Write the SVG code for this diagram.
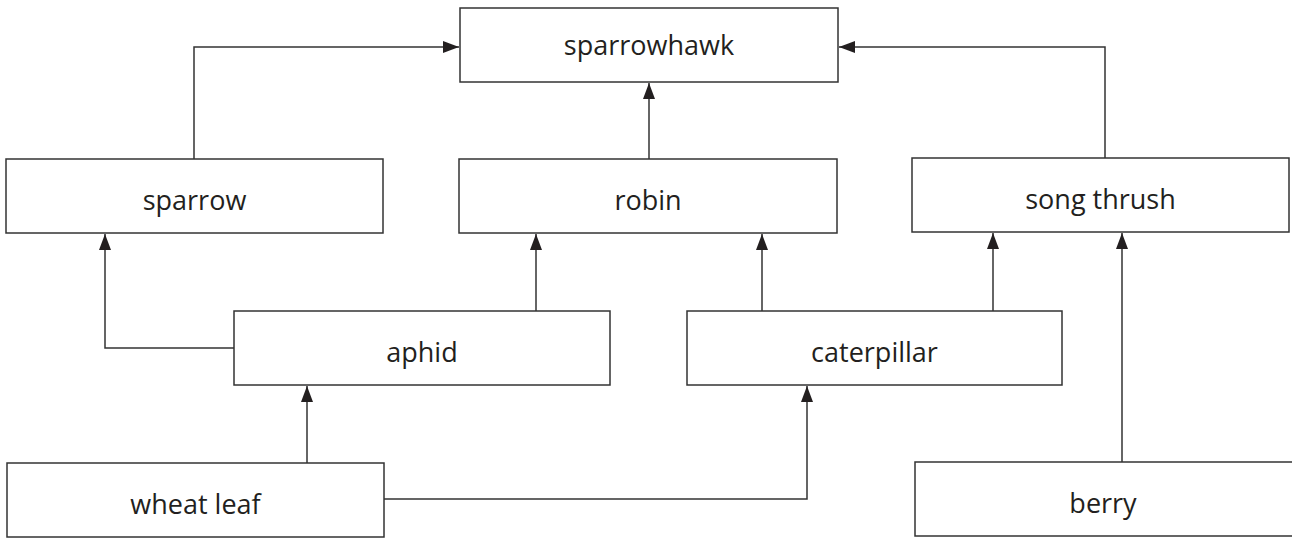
<svg xmlns="http://www.w3.org/2000/svg" width="1292" height="538" viewBox="0 0 1292 538">
<defs>
<marker id="ah" markerUnits="userSpaceOnUse" markerWidth="16" markerHeight="12" refX="16" refY="6" orient="auto">
<path d="M0,0 L16,6 L0,12 Z" fill="#231f20"/>
</marker>
</defs>
<style>
.box{fill:#fff;stroke:#333;stroke-width:1.5}
.lbl{font-family:"Open Sans","Noto Sans",sans-serif;font-size:27px;fill:#231f20;text-anchor:middle}
.c{fill:none;stroke:#333;stroke-width:1.5}
</style>
<g id="connectors">
<path class="c" d="M194,159 V47 H459" marker-end="url(#ah)"/>
<path class="c" d="M1105,158 V47 H839" marker-end="url(#ah)"/>
<path class="c" d="M649,159 V83" marker-end="url(#ah)"/>
<path class="c" d="M234,348 H105 V234" marker-end="url(#ah)"/>
<path class="c" d="M536,311 V234" marker-end="url(#ah)"/>
<path class="c" d="M762,311 V234" marker-end="url(#ah)"/>
<path class="c" d="M993,311 V233" marker-end="url(#ah)"/>
<path class="c" d="M1122,462 V233" marker-end="url(#ah)"/>
<path class="c" d="M307,463 V386" marker-end="url(#ah)"/>
<path class="c" d="M384,499 H807 V386" marker-end="url(#ah)"/>
</g>
<g id="sparrowhawk"><rect class="box" x="460" y="8" width="378" height="74"/><text class="lbl" x="649" y="55">sparrowhawk</text></g>
<g id="sparrow"><rect class="box" x="6" y="159" width="377" height="74"/><text class="lbl" x="194.5" y="210">sparrow</text></g>
<g id="robin"><rect class="box" x="459" y="159" width="378" height="74"/><text class="lbl" x="648" y="210">robin</text></g>
<g id="song-thrush"><rect class="box" x="912" y="158" width="377" height="74"/><text class="lbl" x="1100.5" y="209">song thrush</text></g>
<g id="aphid"><rect class="box" x="234" y="311" width="376" height="74"/><text class="lbl" x="422" y="362">aphid</text></g>
<g id="caterpillar"><rect class="box" x="687" y="311" width="375" height="74"/><text class="lbl" x="874.5" y="362">caterpillar</text></g>
<g id="wheat-leaf"><rect class="box" x="7" y="463" width="377" height="74"/><text class="lbl" x="195.5" y="514">wheat leaf</text></g>
<g id="berry"><path class="box" d="M1293,462 H915 V536 H1293"/><text class="lbl" x="1103" y="513">berry</text></g>
</svg>
